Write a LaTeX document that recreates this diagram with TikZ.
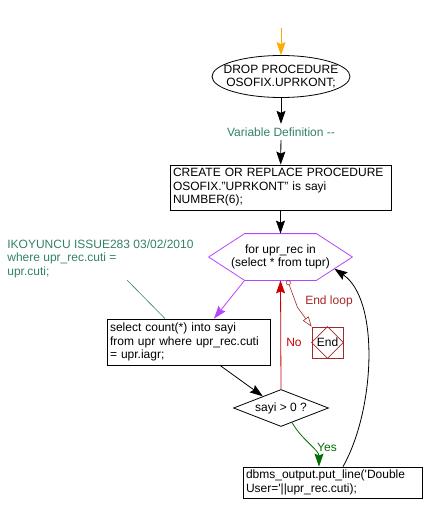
\documentclass[tikz,border=0pt]{standalone}
\usepackage{fontspec}
\setmainfont{Liberation Sans}
\usetikzlibrary{shapes.geometric, arrows.meta, calc}

\begin{document}
\begin{tikzpicture}[x=1pt, y=-1pt, line width=0.8pt,
    font=\fontsize{12}{13.5}\selectfont,
    proc/.style={draw, rectangle, inner xsep=3pt, inner ysep=2pt, align=left},
    flow/.style={-{Stealth[length=13pt, width=9pt, inset=2pt]}},
    cmt/.style={text=notecolor}]

    % Colours
    \definecolor{notecolor}{RGB}{50,130,100}   % comments
    \definecolor{loopcolor}{RGB}{180,70,255}   % loop
    \definecolor{nocolor}{RGB}{205,0,0}        % no branch
    \definecolor{endcolor}{RGB}{165,40,40}     % end of loop
    \definecolor{yescolor}{RGB}{0,110,0}       % yes branch
    \definecolor{startcolor}{RGB}{255,170,0}   % entry

    \useasboundingbox (0,0) rectangle (424,513);

    % Head of the procedure
    \coordinate (start) at (281,28);
    \node[draw, ellipse, minimum width=138pt, minimum height=42pt,
          inner xsep=-15pt, inner ysep=-4pt, align=center] (drop) at (281,76.5)
          {DROP PROCEDURE\\OSOFIX.UPRKONT;};
    \node[cmt] (vardef) at (281,132) {Variable Definition -{}-};
    \node[proc, text width=215pt, minimum height=45pt] (create) at (280.5,187.5)
          {CREATE OR REPLACE PROCEDURE\\OSOFIX."UPRKONT" is sayi\\NUMBER(6);};

    % Loop
    \node[minimum width=143pt, minimum height=46pt, inner sep=0pt, align=center] (loop) at (280.5,257)
          {for upr\_rec in\\(select * from tupr)};
    \draw[loopcolor] (loop.west) -- ([xshift=36pt]loop.north west) -- ([xshift=-36pt]loop.north east)
          -- (loop.east) -- ([xshift=-36pt]loop.south east) -- ([xshift=36pt]loop.south west) -- cycle;

    % Comment
    \node[cmt, align=left, anchor=north west, inner sep=3pt] (note) at (4,236)
          {IKOYUNCU ISSUE283 03/02/2010\\where upr\_rec.cuti =\\upr.cuti;};
    \coordinate (notetip) at (127,280);

    % Body of the loop
    \node[proc, text width=157pt, minimum height=46pt] (select) at (188.5,342)
          {select count(*) into sayi\\from upr where upr\_rec.cuti\\= upr.iagr;};
    \node[draw, diamond, aspect=2.5, minimum width=95pt, minimum height=37pt, inner sep=0pt] (cond) at (281,408)
          {sayi > 0 ?};
    \node[proc, text width=173pt, minimum height=31pt] (out) at (332.5,482.5)
          {dbms\_output.put\_line(\textquotesingle Double\\User=\textquotesingle||upr\_rec.cuti);};

    % End
    \node[draw=endcolor, minimum size=31pt, inner sep=0pt] (endbox) at (327.5,342.5) {End};
    \draw[endcolor, line width=0.6pt] (endbox.north) -- (endbox.east) -- (endbox.south) -- (endbox.west) -- cycle;

    % Connectors
    \draw[flow, startcolor] (start) -- (drop);
    \draw[flow] (drop) -- (vardef);
    \draw[flow] (vardef) -- (create);
    \draw[flow] (create) -- (loop.north);
    \draw[notecolor, line width=0.6pt] (notetip) -- ([xshift=-23.5pt]select.north);
    \draw[flow, loopcolor] ([xshift=36pt]loop.south west) -- ([xshift=25.5pt]select.north);
    \draw[flow] ([xshift=31.5pt]select.south) -- ($(cond.west)!0.62!(cond.north)$);
    \draw[flow, nocolor] (cond.north) -- (loop.south);
    \draw[endcolor, line width=0.6pt, {Circle[open, length=5pt]}-{Triangle[open, length=10pt, width=7pt]}]
          ([xshift=7pt]loop.south) -- ++(10,27) -- (endbox.north west);
    \draw[flow, yescolor] ($(cond.south)!0.23!(cond.east)$) .. controls (302,440) and (319,450)
          .. ([xshift=-13.5pt]out.north);
    \draw[flow] ([xshift=10.5pt]out.north) .. controls (375,410) and (380,300)
          .. ($(loop.east)!0.5!([xshift=-36pt]loop.south east)$);

    % Labels
    \node[text=nocolor] (nolbl) at (294,342) {No};
    \node[text=endcolor] (endlbl) at (329,301) {End loop};
    \node[text=yescolor] (yeslbl) at (327,447) {Yes};
\end{tikzpicture}
\end{document}
